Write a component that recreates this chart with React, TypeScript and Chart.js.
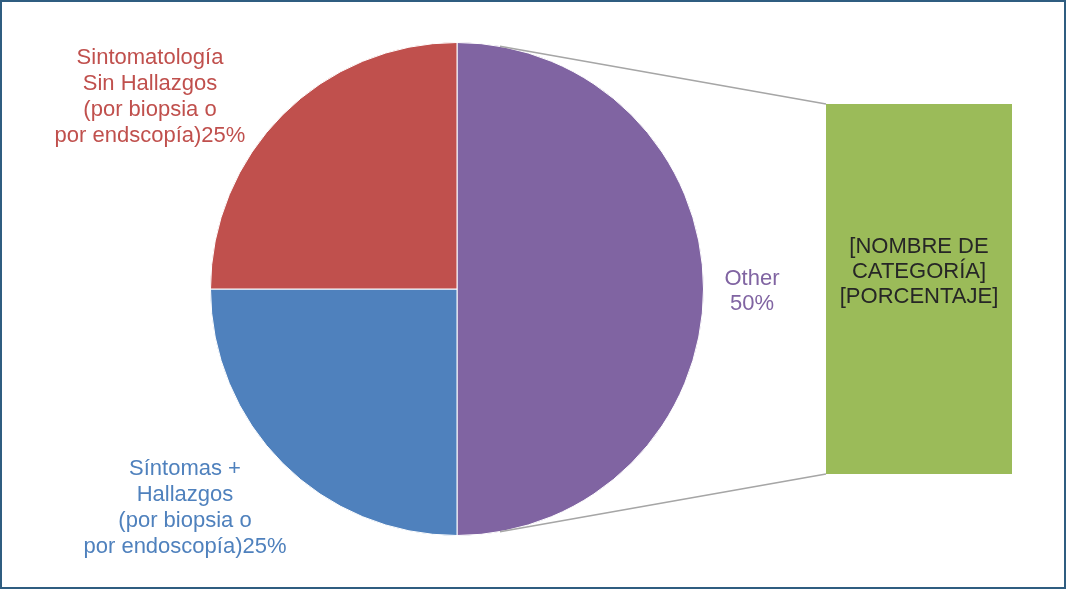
import React, { useEffect, useRef } from "react";
import { Chart, registerables } from "chart.js";

Chart.register(...registerables);

// ---- data ----
const categories = [
  "Other",
  "Síntomas + Hallazgos (por biopsia o por endoscopía)",
  "Sintomatología Sin Hallazgos (por biopsia o por endscopía)",
];
const values = [50, 25, 25];
const sliceColors = ["#8064a2", "#4f81bd", "#c0504d"];
const labelNameLines = [
  ["Other"],
  ["Síntomas +", "Hallazgos", "(por biopsia o", "por endoscopía)"],
  ["Sintomatología", "Sin Hallazgos", "(por biopsia o", "por endscopía)"],
];
const pctOnOwnLine = [true, false, false];

const detailCategories = ["[NOMBRE DE CATEGORÍA]"];
const detailValues = [100];
const detailColor = "#9bbb59";
const detailLabelLines = ["[NOMBRE DE", "CATEGORÍA]", "[PORCENTAJE]"];

// ---- layout ----
const W = 1066;
const H = 589;
const FONT = '22px "Liberation Sans", Arial, sans-serif';
const labelAnchors = [
  { x: 752, y: 285, lh: 25 },
  { x: 185, y: 475, lh: 26 },
  { x: 150, y: 64, lh: 26 },
];
const detailLabelAnchor = { y: 253, lh: 25 };

function buildLines(i: number): string[] {
  const total = values.reduce((a, b) => a + b, 0);
  const pct = Math.round((values[i] / total) * 100) + "%";
  const lines = labelNameLines[i].slice();
  if (pctOnOwnLine[i]) lines.push(pct);
  else lines[lines.length - 1] = lines[lines.length - 1] + pct;
  return lines;
}

export default function App() {
  const pieRef = useRef<HTMLCanvasElement>(null);
  const barRef = useRef<HTMLCanvasElement>(null);

  useEffect(() => {
    document.body.style.margin = "0";
    if (!pieRef.current || !barRef.current) return;

    const pieLabels = {
      id: "pieLabels",
      afterDraw(chart: any) {
        const ctx = chart.ctx;
        ctx.save();
        ctx.font = FONT;
        ctx.textAlign = "center";
        ctx.textBaseline = "alphabetic";
        values.forEach((_, i) => {
          const a = labelAnchors[i];
          ctx.fillStyle = sliceColors[i];
          buildLines(i).forEach((ln, k) => ctx.fillText(ln, a.x, a.y + k * a.lh));
        });
        ctx.restore();
      },
    };

    const pie = new Chart(pieRef.current, {
      type: "pie",
      data: {
        labels: categories,
        datasets: [
          {
            data: values,
            backgroundColor: sliceColors,
            borderColor: "#ffffff",
            borderWidth: 1,
          },
        ],
      },
      options: {
        responsive: false,
        animation: false,
        layout: { padding: { left: 210, right: 362, top: 42, bottom: 53 } },
        plugins: { legend: { display: false }, tooltip: { enabled: false } },
      },
      plugins: [pieLabels],
    });

    const connectors = {
      id: "connectors",
      afterDraw(chart: any) {
        const ctx = chart.ctx;
        const arc: any = pie.getDatasetMeta(0).data[0];
        const bar: any = chart.getDatasetMeta(0).data[0];
        if (!arc || !bar) return;
        const cx = arc.x, cy = arc.y, r = arc.outerRadius;
        const left = bar.x - bar.width / 2;
        const pts = [
          { px: left, py: bar.y, sign: -1 },
          { px: left, py: bar.base, sign: 1 },
        ];
        ctx.save();
        ctx.strokeStyle = "#a6a6a6";
        ctx.lineWidth = 1.5;
        pts.forEach(({ px, py, sign }) => {
          const dx = px - cx, dy = py - cy;
          const d = Math.hypot(dx, dy);
          const phi = Math.atan2(dy, dx);
          const alpha = Math.acos(Math.min(1, r / d));
          const t = phi + sign * alpha;
          ctx.beginPath();
          ctx.moveTo(cx + r * Math.cos(t), cy + r * Math.sin(t));
          ctx.lineTo(px, py);
          ctx.stroke();
        });
        // bar label
        ctx.font = FONT;
        ctx.textAlign = "center";
        ctx.textBaseline = "alphabetic";
        ctx.fillStyle = "#262626";
        detailLabelLines.forEach((ln, k) =>
          ctx.fillText(ln, bar.x, detailLabelAnchor.y + k * detailLabelAnchor.lh)
        );
        ctx.restore();
      },
    };

    const barChart = new Chart(barRef.current, {
      type: "bar",
      data: {
        labels: detailCategories,
        datasets: [
          {
            data: detailValues,
            backgroundColor: detailColor,
            borderWidth: 0,
            barPercentage: 1,
            categoryPercentage: 1,
          },
        ],
      },
      options: {
        responsive: false,
        animation: false,
        layout: { padding: { left: 826, right: 54, top: 104, bottom: 115 } },
        scales: {
          x: { display: false },
          y: { display: false, min: 0, max: 100 },
        },
        plugins: { legend: { display: false }, tooltip: { enabled: false } },
      },
      plugins: [connectors],
    });

    return () => {
      barChart.destroy();
      pie.destroy();
    };
  }, []);

  return (
    <div style={{ position: "relative", width: W, height: H, background: "#fff" }}>
      <canvas ref={pieRef} width={W} height={H} style={{ position: "absolute", left: 0, top: 0 }} />
      <canvas ref={barRef} width={W} height={H} style={{ position: "absolute", left: 0, top: 0 }} />
      <div
        style={{
          position: "absolute",
          left: 0,
          top: 0,
          width: W,
          height: H,
          boxSizing: "border-box",
          border: "2px solid #2f5d80",
          pointerEvents: "none",
        }}
      />
    </div>
  );
}
